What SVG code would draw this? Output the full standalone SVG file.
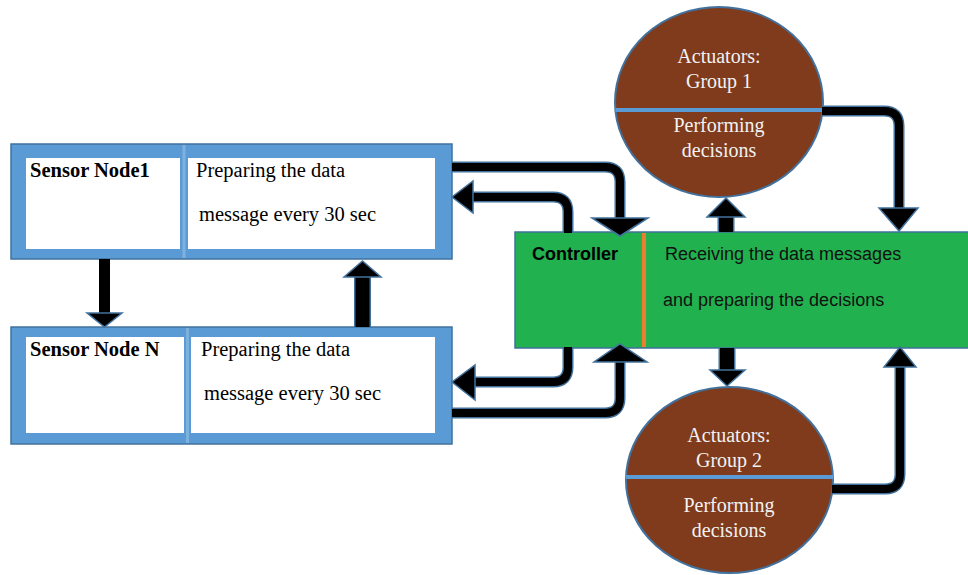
<svg xmlns="http://www.w3.org/2000/svg" width="968" height="575" viewBox="0 0 968 575">
<style>
.frame{fill:#5b9bd5;stroke:#41719c;stroke-width:1.5}
.cell{fill:#ffffff}
.sep{stroke:#7fb1df;stroke-width:3}
.st{font-family:"Liberation Serif","Times New Roman",serif;font-size:20.5px;fill:#000}
.stb{font-family:"Liberation Serif","Times New Roman",serif;font-size:20.5px;font-weight:bold;fill:#000}
.ct{font-family:"Liberation Sans",Arial,sans-serif;font-size:18px;fill:#111}
.ctb{font-family:"Liberation Sans",Arial,sans-serif;font-size:18px;font-weight:bold;fill:#000}
.act{fill:#7f3b1c;stroke:#41719c;stroke-width:2}
.adiv{stroke:#5b9bd5;stroke-width:4}
.at{font-family:"Liberation Serif","Times New Roman",serif;font-size:20px;fill:#f2f2f2;text-anchor:middle}
.o{fill:none;stroke:#41719c;stroke-width:11;stroke-linejoin:round}
.k{fill:none;stroke:#000;stroke-width:8;stroke-linejoin:round}
.o2{fill:none;stroke:#41719c;stroke-width:17}
.k2{fill:none;stroke:#000;stroke-width:14}
.hd{fill:#000;stroke:#41719c;stroke-width:1.5;stroke-linejoin:miter}
</style>
<g id="sensor1">
<rect class="frame" x="11" y="144" width="441" height="115"/>
<line class="sep" x1="184" y1="145" x2="184" y2="258"/>
<rect class="cell" x="26" y="158" width="154" height="91"/>
<rect class="cell" x="188" y="158" width="247" height="91"/>
<text class="stb" x="30" y="177">Sensor Node1</text>
<text class="st" x="196" y="177">Preparing the data</text>
<text class="st" x="199" y="221">message every 30 sec</text>
</g>
<g id="sensorN">
<rect class="frame" x="11" y="327" width="441" height="117"/>
<line class="sep" x1="187.5" y1="328" x2="187.5" y2="443"/>
<rect class="cell" x="26" y="337" width="158" height="96"/>
<rect class="cell" x="191" y="337" width="244" height="96"/>
<text class="stb" x="30" y="356">Sensor Node N</text>
<text class="st" x="201" y="356">Preparing the data</text>
<text class="st" x="204" y="400">message every 30 sec</text>
</g>
<g id="controller">
<rect x="515" y="232" width="460" height="116" fill="#21b14e" stroke="#41719c" stroke-width="1.5"/>
<rect x="642" y="233" width="4" height="114" fill="#ed7d31"/>
<text class="ctb" x="532" y="260">Controller</text>
<text class="ct" x="665" y="260">Receiving the data messages</text>
<text class="ct" x="663" y="306">and preparing the decisions</text>
</g>
<g id="actuators1">
<ellipse class="act" cx="719" cy="102" rx="104" ry="95"/>
<line class="adiv" x1="615.5" y1="110" x2="822.5" y2="110"/>
<text class="at" x="719" y="63">Actuators:</text>
<text class="at" x="719" y="88">Group 1</text>
<text class="at" x="719" y="132">Performing</text>
<text class="at" x="719" y="157">decisions</text>
</g>
<g id="actuators2">
<ellipse class="act" cx="729.5" cy="480" rx="103.5" ry="93"/>
<line class="adiv" x1="626" y1="477" x2="833" y2="477"/>
<text class="at" x="729" y="442">Actuators:</text>
<text class="at" x="729" y="467">Group 2</text>
<text class="at" x="729" y="512">Performing</text>
<text class="at" x="729" y="537">decisions</text>
</g>
<g id="connectors">
<defs>
<path id="p1" d="M452,167 H605 Q620,167 620,182 V218"/>
<path id="p2" d="M568,233 V212 Q568,197 553,197 H472"/>
<path id="p3" d="M568,347 V367 Q568,382 553,382 H474"/>
<path id="p4" d="M452,413 H605 Q620,413 620,398 V361"/>
<path id="p5" d="M104.5,259 V314"/>
<path id="p6" d="M362.5,327 V276"/>
<path id="p7" d="M726,232 V216"/>
<path id="p8" d="M822,111 H884 Q899,111 899,126 V209"/>
<path id="p9" d="M727,348 V371"/>
<path id="p10" d="M832,489 H885 Q900,489 900,474 V366"/>
</defs>
<use href="#p1" class="o"/><use href="#p1" class="k"/>
<polygon class="hd" points="592,218 648,218 620,236"/>
<use href="#p2" class="o"/><use href="#p2" class="k"/>
<polygon class="hd" points="473,181 473,213 452,197"/>
<use href="#p3" class="o"/><use href="#p3" class="k"/>
<polygon class="hd" points="475,365 475,400 452,382"/>
<use href="#p4" class="o"/><use href="#p4" class="k"/>
<polygon class="hd" points="594,362 647,362 620,344"/>
<use href="#p5" class="o"/><use href="#p5" class="k" style="stroke-width:11"/>
<polygon class="hd" points="87,313 122,313 104.5,327"/>
<use href="#p6" class="o2"/><use href="#p6" class="k2"/>
<polygon class="hd" points="344,277 381,277 362.5,261"/>
<use href="#p7" class="o2"/><use href="#p7" class="k2"/>
<polygon class="hd" points="707,217 745,217 726,198"/>
<use href="#p8" class="o"/><use href="#p8" class="k"/>
<polygon class="hd" points="879,208 918,208 899,231"/>
<use href="#p9" class="o2"/><use href="#p9" class="k2"/>
<polygon class="hd" points="710,370 745,370 727,386"/>
<use href="#p10" class="o"/><use href="#p10" class="k"/>
<polygon class="hd" points="884,367 916,367 900,347"/>
</g>
</svg>
